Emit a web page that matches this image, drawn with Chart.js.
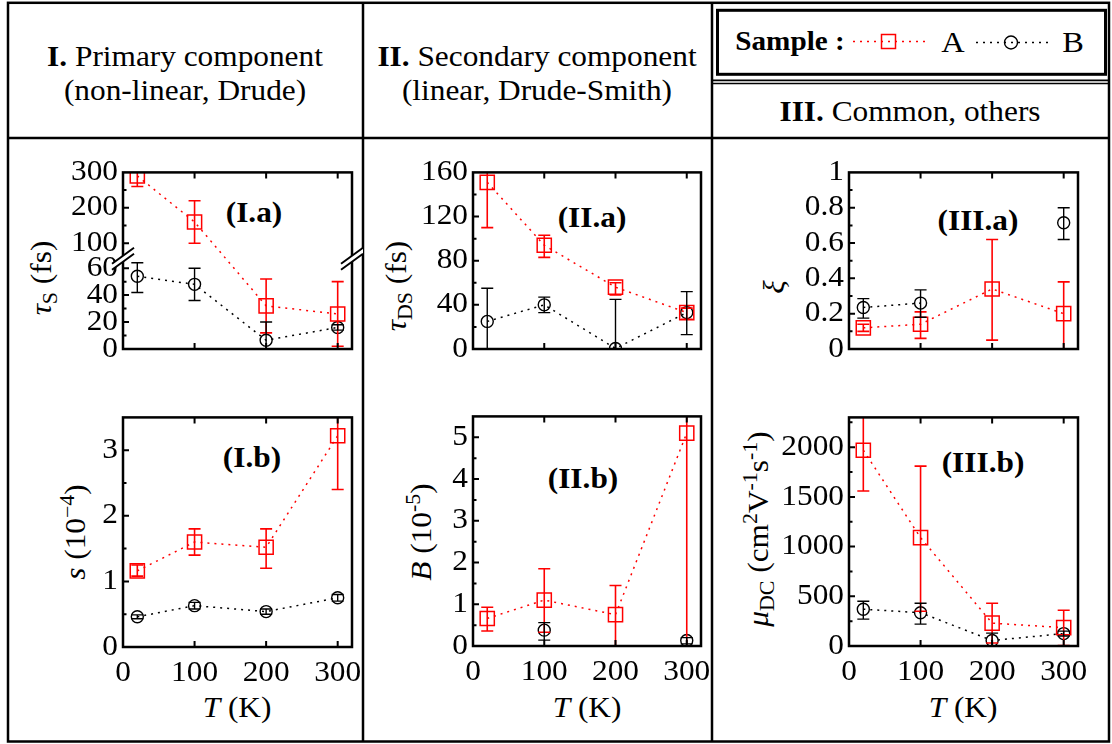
<!DOCTYPE html>
<html lang="en">
<head>
<meta charset="utf-8">
<title>Fit parameters versus temperature</title>
<script src="https://cdn.jsdelivr.net/npm/chart.js@4.4.1/dist/chart.umd.min.js"></script>
<style>
  html, body { margin: 0; padding: 0; background: #fff; }
  body { position: relative; width: 1112px; height: 744px; overflow: hidden;
         font-family: 'Liberation Serif', 'Times New Roman', serif; color: #000; }
  svg.frame { position: absolute; left: 0; top: 0; }
  canvas { position: absolute; }
  .t { position: absolute; white-space: nowrap; font-size: 29px; line-height: 1;
       transform: translate(-50%, -50%) scaleX(1.08); }
  .v { position: absolute; white-space: nowrap; font-size: 29px; line-height: 1;
       transform: translate(-50%, -50%) rotate(-90deg) scaleX(1.08); }
  .b { font-weight: bold; }
  sub { font-size: 0.7em; vertical-align: -0.3em; line-height: 0; }
  sup { font-size: 0.7em; vertical-align: 0.5em; line-height: 0; }
</style>
</head>
<body>
<svg class="frame" width="1112" height="744">
  <g fill="none" stroke="#000">
    <rect x="8" y="2.8" width="1101" height="738.7" stroke-width="2.5"/>
    <line x1="363" y1="2.8" x2="363" y2="741.5" stroke-width="2.5"/>
    <line x1="712" y1="2.8" x2="712" y2="741.5" stroke-width="2.5"/>
    <line x1="8" y1="138" x2="1109" y2="138" stroke-width="2.5"/>
    <rect x="717.5" y="10.3" width="388" height="64" stroke-width="3"/>
    <line x1="712" y1="80.3" x2="1109" y2="80.3" stroke-width="1.8"/>
    <line x1="712" y1="83.6" x2="1109" y2="83.6" stroke-width="1.5"/>
  </g>
  <!-- legend samples -->
  <line x1="853" y1="41.5" x2="926" y2="41.5" stroke="#f00" stroke-width="1.5" stroke-dasharray="2 5"/>
  <rect x="881.5" y="34.5" width="14" height="14" fill="none" stroke="#f00" stroke-width="1.5"/>
  <line x1="976" y1="42.5" x2="1048" y2="42.5" stroke="#000" stroke-width="1.5" stroke-dasharray="2 5"/>
  <circle cx="1011" cy="42.5" r="6.5" fill="none" stroke="#000" stroke-width="1.4"/>
</svg>

<div class="t" style="left:185px;top:56px"><b>I.</b> Primary component</div>
<div class="t" style="left:185px;top:90px">(non-linear, Drude)</div>
<div class="t" style="left:537px;top:56px"><b>II.</b> Secondary component</div>
<div class="t" style="left:537px;top:90px">(linear, Drude-Smith)</div>
<div class="t" style="left:910px;top:111px"><b>III.</b> Common, others</div>
<div class="t b" style="left:790px;top:41px;font-size:27px">Sample :</div>
<div class="t" style="left:953px;top:42px;font-size:30px">A</div>
<div class="t" style="left:1073px;top:42px;font-size:30px">B</div>

<div class="v" style="left:41px;top:278px"><i>τ</i><sub>S</sub> (fs)</div>
<div class="v" style="left:75px;top:532px"><i>s</i> (10<sup>−4</sup>)</div>
<div class="v" style="left:396px;top:286px"><i>τ</i><sub>DS</sub> (fs)</div>
<div class="v" style="left:421px;top:532px"><i>B</i> (10<sup>-5</sup>)</div>
<div class="v" style="left:774px;top:287px"><i>ξ</i></div>
<div class="v" style="left:758px;top:529px"><i>μ</i><sub>DC</sub> (cm<sup>2</sup>V<sup>-1</sup>s<sup>-1</sup>)</div>

<div class="t" style="left:237px;top:707px"><i>T</i> (K)</div>
<div class="t" style="left:587px;top:707px"><i>T</i> (K)</div>
<div class="t" style="left:963px;top:707px"><i>T</i> (K)</div>

<div class="t b" style="left:254px;top:212px">(I.a)</div>
<div class="t b" style="left:252px;top:457px">(I.b)</div>
<div class="t b" style="left:592px;top:217px">(II.a)</div>
<div class="t b" style="left:583px;top:478px">(II.b)</div>
<div class="t b" style="left:978px;top:220px">(III.a)</div>
<div class="t b" style="left:983px;top:462px">(III.b)</div>

<script>
// ---------- data ----------
const temps = [20, 100, 200, 300];          // temperature (K)
const xTicks = [0, 100, 200, 300];

// (I.a) Drude scattering time tau_S (fs)
const tauS_A    = [290, 160, 32, 26];
const tauS_A_lo = [260, 100, 12, 2];
const tauS_A_hi = [320, 220, 52, 50];
const tauS_B    = [54, 48, 6.5, 16];
const tauS_B_lo = [42, 36, -7, 14];
const tauS_B_hi = [64, 60, 20, 18];
const tauS_ticks = [0, 20, 40, 60, 100, 200, 300];
const tauS_minor = [10, 30, 50, 150, 250];

// (I.b) non-linearity s (1e-4)
const s_A    = [1.16, 1.6, 1.52, 3.22];
const s_A_lo = [1.08, 1.4, 1.2, 2.4];
const s_A_hi = [1.25, 1.8, 1.8, 4.04];
const s_B    = [0.46, 0.63, 0.54, 0.75];
const s_B_lo = [0.43, 0.58, 0.5, 0.7];
const s_B_hi = [0.49, 0.68, 0.58, 0.8];
const s_ticks = [0, 1, 2, 3];
const s_minor = [0.5, 1.5, 2.5];

// (II.a) Drude-Smith scattering time tau_DS (fs)
const tauDS_A    = [151, 94, 56, 33];
const tauDS_A_lo = [110, 83, 49, 27];
const tauDS_A_hi = [192, 103, 60, 37];
const tauDS_B    = [25, 40, 0.5, 33];
const tauDS_B_lo = [-5, 33, -44, 13];
const tauDS_B_hi = [55, 47, 45, 52];
const tauDS_ticks = [0, 40, 80, 120, 160];
const tauDS_minor = [20, 60, 100, 140];

// (II.b) amplitude B (1e-5)
const B_A    = [0.66, 1.1, 0.75, 5.1];
const B_A_lo = [0.36, 0.33, 0, -0.3];
const B_A_hi = [0.93, 1.85, 1.45, 10.5];
const B_B    = [null, 0.38, null, 0.13];
const B_B_lo = [null, 0.14, null, 0.05];
const B_B_hi = [null, 0.56, null, 0.2];
const B_ticks = [0, 1, 2, 3, 4, 5];
const B_minor = [0.5, 1.5, 2.5, 3.5, 4.5];

// (III.a) weight xi
const xi_A    = [0.12, 0.14, 0.34, 0.2];
const xi_A_lo = [0.1, 0.06, 0.05, 0.0];
const xi_A_hi = [0.14, 0.21, 0.62, 0.38];
const xi_B    = [0.235, 0.26, null, 0.715];
const xi_B_lo = [0.175, 0.18, null, 0.62];
const xi_B_hi = [0.285, 0.335, null, 0.8];
const xi_ticks = [0, 0.2, 0.4, 0.6, 0.8, 1];
const xi_minor = [0.1, 0.3, 0.5, 0.7, 0.9];

// (III.b) DC mobility mu_DC (cm2 V-1 s-1)
const mu_A    = [1970, 1090, 230, 185];
const mu_A_lo = [1560, 350, 30, 5];
const mu_A_hi = [2380, 1810, 430, 360];
const mu_B    = [370, 335, 55, 125];
const mu_B_lo = [270, 220, -20, 100];
const mu_B_hi = [450, 430, 130, 150];
const mu_ticks = [0, 500, 1000, 1500, 2000];
const mu_minor = [250, 750, 1250, 1750, 2250];

// ---------- broken linear axis (lower and upper segments) ----------
const tauSBreak = { split: 64, lowTop: 67, highBottom: 56, frac: 0.511 };

class BrokenLinearScale extends Chart.LinearScale {
  _warp(v) {
    const b = this.options.axisBreak;
    if (v <= b.split) return v / b.lowTop * b.frac;
    return b.frac + (v - b.highBottom) / (this.max - b.highBottom) * (1 - b.frac);
  }
  _unwarp(d) {
    const b = this.options.axisBreak;
    if (d <= b.frac) return d / b.frac * b.lowTop;
    return b.highBottom + (d - b.frac) / (1 - b.frac) * (this.max - b.highBottom);
  }
  getPixelForValue(value) { return this.getPixelForDecimal(this._warp(value)); }
  getValueForPixel(pixel) { return this._unwarp(this.getDecimalForPixel(pixel)); }
}
BrokenLinearScale.id = 'brokenLinear';
BrokenLinearScale.defaults = Chart.LinearScale.defaults;
Chart.register(BrokenLinearScale);

// ---------- styles ----------
const FONT = { family: "'Liberation Serif', 'Times New Roman', serif", size: 29 };
const TEXT_WIDEN = 1.08;
const styleA = { color: '#ff0000', pointStyle: 'rect', radius: 10, pointWidth: 1.5, errWidth: 1.6 };
const styleB = { color: '#000000', pointStyle: 'circle', radius: 6, pointWidth: 1.4, errWidth: 1.4 };

function makeDataset(name, st, vals, lo, hi) {
  return {
    label: name,
    data: temps.map((t, i) => ({ x: t, y: vals[i] })),
    errLo: lo, errHi: hi, errWidth: st.errWidth,
    borderColor: st.color, borderWidth: 1.5, borderDash: [2, 5],
    backgroundColor: 'rgba(0,0,0,0)', fill: false, tension: 0, spanGaps: false,
    pointStyle: st.pointStyle, pointRadius: st.radius, pointBorderWidth: st.pointWidth,
    pointBorderColor: st.color, pointBackgroundColor: 'rgba(0,0,0,0)'
  };
}

// Text on the canvases is set slightly wide, like the HTML labels.
const wideText = {
  id: 'wideText',
  beforeDraw(chart) {
    const ctx = chart.ctx;
    if (ctx._wide) return;
    const fill = ctx.fillText;
    ctx.fillText = function (t, x, y) {
      this.save(); this.translate(x, y); this.scale(TEXT_WIDEN, 1);
      fill.call(this, t, 0, 0);
      this.restore();
    };
    ctx._wide = true;
  }
};

// Error bars, boxed frame, inward ticks and axis-break marks.
function makeDecor(p) {
  return {
    id: 'panelDecor',
    afterDatasetsDraw(chart) {
      const { ctx, chartArea: a } = chart;
      const xs = chart.scales.x, ys = chart.scales.y;
      ctx.save();
      ctx.beginPath();
      ctx.rect(a.left, a.top, a.right - a.left, a.bottom - a.top);
      ctx.clip();
      ctx.setLineDash([]);
      chart.data.datasets.forEach(ds => {
        ctx.strokeStyle = ds.borderColor;
        ctx.lineWidth = ds.errWidth;
        ctx.beginPath();
        temps.forEach((t, i) => {
          if (ds.errLo[i] == null) return;
          const px = xs.getPixelForValue(t);
          const y1 = ys.getPixelForValue(ds.errLo[i]);
          const y2 = ys.getPixelForValue(ds.errHi[i]);
          ctx.moveTo(px, y1); ctx.lineTo(px, y2);
          ctx.moveTo(px - 6, y1); ctx.lineTo(px + 6, y1);
          ctx.moveTo(px - 6, y2); ctx.lineTo(px + 6, y2);
        });
        ctx.stroke();
      });
      ctx.restore();
    },
    afterDraw(chart) {
      const { ctx, chartArea: a } = chart;
      const xs = chart.scales.x, ys = chart.scales.y;
      ctx.save();
      ctx.setLineDash([]);
      ctx.strokeStyle = '#000';
      ctx.lineWidth = 2.5;
      ctx.strokeRect(a.left, a.top, a.right - a.left, a.bottom - a.top);
      ctx.lineWidth = 2;
      ctx.beginPath();
      p.yTicks.forEach(v => {
        const py = ys.getPixelForValue(v);
        if (py > a.top + 1 && py < a.bottom - 1) { ctx.moveTo(a.left, py); ctx.lineTo(a.left + 6, py); }
      });
      p.yMinor.forEach(v => {
        const py = ys.getPixelForValue(v);
        if (py > a.top + 1 && py < a.bottom - 1) { ctx.moveTo(a.left, py); ctx.lineTo(a.left + 3.5, py); }
      });
      xTicks.forEach(v => {
        const px = xs.getPixelForValue(v);
        if (px > a.left + 1 && px < a.right - 1) {
          ctx.moveTo(px, a.top); ctx.lineTo(px, a.top + 6);
          ctx.moveTo(px, a.bottom); ctx.lineTo(px, a.bottom - 6);
        }
      });
      ctx.stroke();
      if (p.axisBreak) {
        const yb = ys.getPixelForDecimal(p.axisBreak.frac);
        const dx = 11, dy = 8, g = 3;
        [a.left, a.right].forEach(cx => {
          ctx.fillStyle = '#fff';
          ctx.beginPath();
          ctx.moveTo(cx - dx, yb + dy - g); ctx.lineTo(cx + dx, yb - dy - g);
          ctx.lineTo(cx + dx, yb - dy + g); ctx.lineTo(cx - dx, yb + dy + g);
          ctx.closePath(); ctx.fill();
          ctx.beginPath();
          ctx.moveTo(cx - dx, yb + dy - g); ctx.lineTo(cx + dx, yb - dy - g);
          ctx.moveTo(cx - dx, yb + dy + g); ctx.lineTo(cx + dx, yb - dy + g);
          ctx.lineWidth = 2; ctx.stroke();
        });
      }
      ctx.restore();
    }
  };
}

// ---------- panels ----------
const panels = [
  { box: [123, 172, 352, 399], bottomAxis: false, yType: 'brokenLinear', yMax: 300, axisBreak: tauSBreak,
    yTicks: tauS_ticks, yMinor: tauS_minor,
    A: [tauS_A, tauS_A_lo, tauS_A_hi], B: [tauS_B, tauS_B_lo, tauS_B_hi] },
  { box: [123, 417, 352, 647], bottomAxis: true, yType: 'linear', yMax: 3.5,
    yTicks: s_ticks, yMinor: s_minor,
    A: [s_A, s_A_lo, s_A_hi], B: [s_B, s_B_lo, s_B_hi] },
  { box: [473, 172, 701, 399], bottomAxis: false, yType: 'linear', yMax: 160,
    yTicks: tauDS_ticks, yMinor: tauDS_minor,
    A: [tauDS_A, tauDS_A_lo, tauDS_A_hi], B: [tauDS_B, tauDS_B_lo, tauDS_B_hi] },
  { box: [473, 416, 701, 646], bottomAxis: true, yType: 'linear', yMax: 5.5,
    yTicks: B_ticks, yMinor: B_minor,
    A: [B_A, B_A_lo, B_A_hi], B: [B_B, B_B_lo, B_B_hi] },
  { box: [849, 172, 1078, 399], bottomAxis: false, yType: 'linear', yMax: 1,
    yTicks: xi_ticks, yMinor: xi_minor,
    A: [xi_A, xi_A_lo, xi_A_hi], B: [xi_B, xi_B_lo, xi_B_hi] },
  { box: [849, 417, 1078, 646], bottomAxis: true, yType: 'linear', yMax: 2300,
    yTicks: mu_ticks, yMinor: mu_minor,
    A: [mu_A, mu_A_lo, mu_A_hi], B: [mu_B, mu_B_lo, mu_B_hi] }
];

const AXIS_W = 70, PAD_T = 22, PAD_R = 30, XAXIS_H = 50, PAD_B = 22;

panels.forEach(p => {
  const [l, t, r, b] = p.box;
  const canvas = document.createElement('canvas');
  const w = AXIS_W + (r - l) + PAD_R;
  const h = PAD_T + (b - t) + (p.bottomAxis ? XAXIS_H : PAD_B);
  canvas.width = w; canvas.height = h;
  canvas.style.left = (l - AXIS_W) + 'px';
  canvas.style.top = (t - PAD_T) + 'px';
  canvas.style.width = w + 'px'; canvas.style.height = h + 'px';
  document.body.appendChild(canvas);

  new Chart(canvas, {
    type: 'line',
    data: {
      datasets: [
        makeDataset('A', styleA, p.A[0], p.A[1], p.A[2]),
        makeDataset('B', styleB, p.B[0], p.B[1], p.B[2])
      ]
    },
    options: {
      responsive: false, animation: false, devicePixelRatio: 1, events: [],
      layout: { padding: { left: 0, top: PAD_T, right: PAD_R, bottom: p.bottomAxis ? 0 : PAD_B } },
      plugins: { legend: { display: false }, tooltip: { enabled: false } },
      scales: {
        x: {
          type: 'linear', min: 0, max: 320, display: p.bottomAxis,
          grid: { display: false, drawTicks: false }, border: { display: false },
          ticks: { font: FONT, color: '#000', padding: 9, maxRotation: 0, minRotation: 0,
                   autoSkip: false, callback: v => String(v) },
          afterBuildTicks: s => { s.ticks = xTicks.map(v => ({ value: v })); },
          afterFit: s => { s.height = XAXIS_H; }
        },
        y: {
          type: p.yType, min: 0, max: p.yMax, axisBreak: p.axisBreak,
          grid: { display: false, drawTicks: false }, border: { display: false },
          ticks: { font: FONT, color: '#000', padding: 5, autoSkip: false, callback: v => String(v) },
          afterBuildTicks: s => { s.ticks = p.yTicks.map(v => ({ value: v })); },
          afterFit: s => { s.width = AXIS_W; }
        }
      }
    },
    plugins: [wideText, makeDecor(p)]
  });
});
</script>
</body>
</html>
